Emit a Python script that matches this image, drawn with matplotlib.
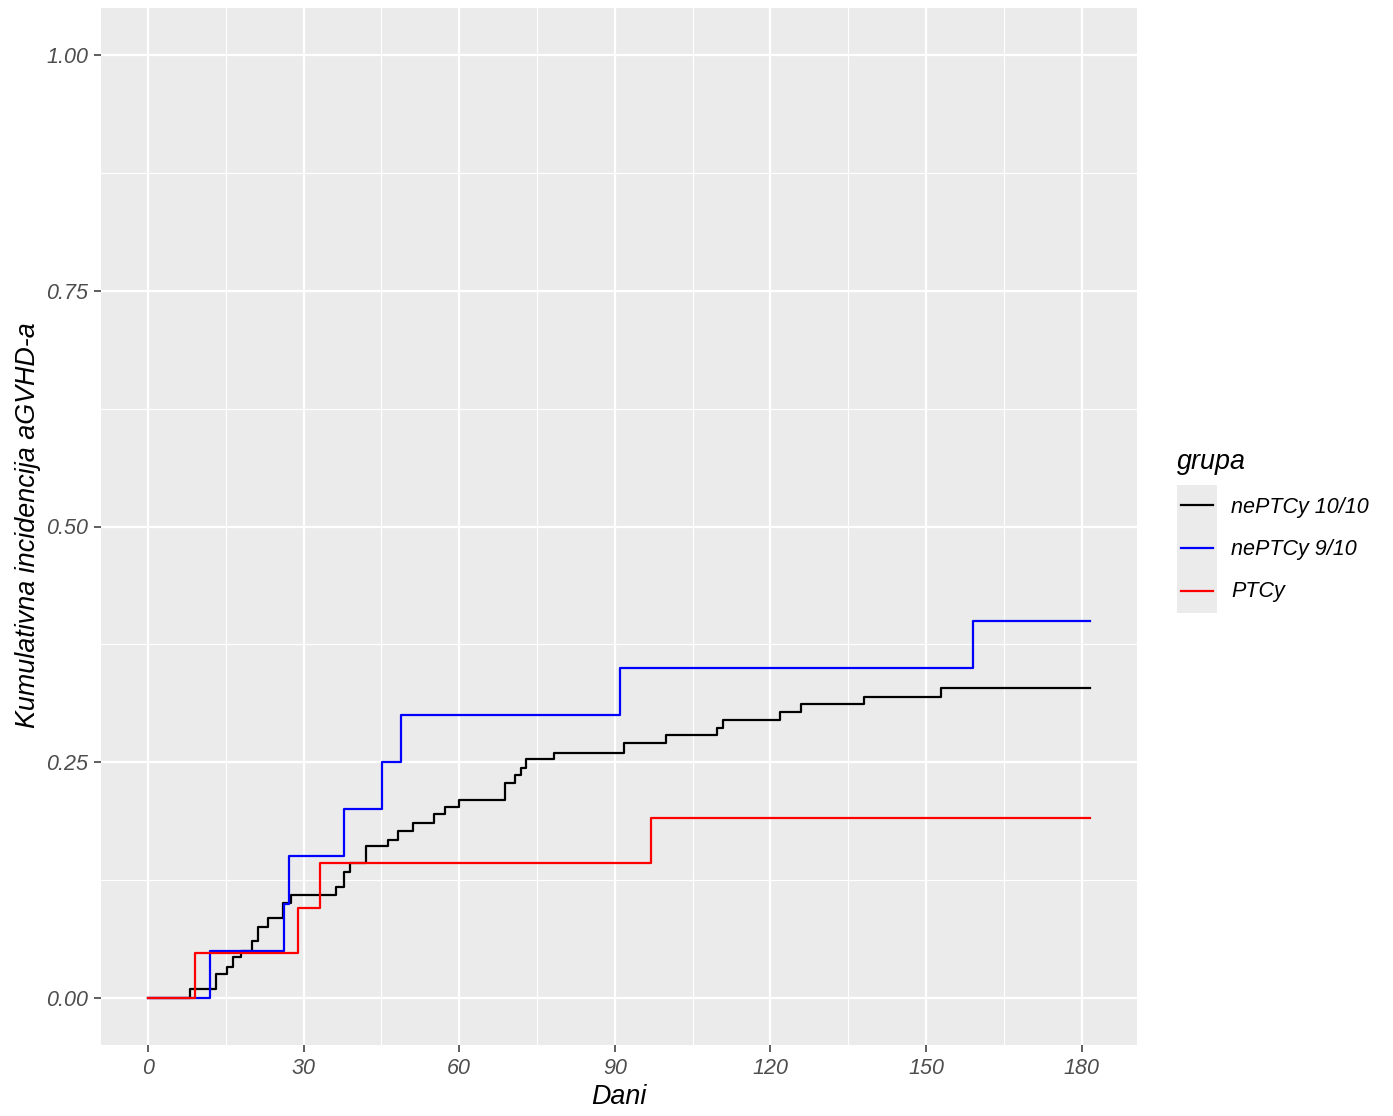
import matplotlib
matplotlib.use("Agg")
import matplotlib.pyplot as plt
from matplotlib.lines import Line2D
from matplotlib.patches import Rectangle

plt.rcParams['font.family'] = ['Liberation Sans', 'DejaVu Sans']
plt.rcParams['font.style'] = 'italic'

# ---------------- data ----------------
groups = ["nePTCy 10/10", "nePTCy 9/10", "PTCy"]
colors = ["black", "blue", "red"]
end_time = 181.6

t_10 = [0, 8, 13, 15.2, 16.3, 17.9, 20.0, 21.1, 23.2, 26.1, 27.5, 36.2, 37.8, 39.0,
        42.1, 46.2, 48.2, 51.0, 55.2, 57.2, 60.0, 68.9, 70.8, 71.9, 72.9, 78.2,
        91.8, 99.9, 109.8, 110.9, 121.9, 126.0, 138.1, 153.0]
ci_10 = [0, 0.0092, 0.0255, 0.0332, 0.0431, 0.0502, 0.0608, 0.075, 0.0845, 0.101,
         0.109, 0.118, 0.133, 0.1428, 0.1608, 0.1675, 0.1774, 0.1852, 0.195, 0.2022,
         0.2095, 0.2276, 0.2365, 0.2435, 0.253, 0.260, 0.270, 0.2785, 0.286, 0.2948,
         0.3033, 0.312, 0.3195, 0.3284]

t_9 = [0, 12, 26.2, 27.2, 37.8, 45.1, 48.8, 91.0, 159.1]
ci_9 = [0, 0.05, 0.10, 0.15, 0.20, 0.25, 0.30, 0.35, 0.40]

t_ptcy = [0, 9, 29, 33.2, 97.0]
ci_ptcy = [0, 1/21, 2/21, 3/21, 4/21]

series = [(t_10, ci_10), (t_9, ci_9), (t_ptcy, ci_ptcy)]

x_ticks = [0, 30, 60, 90, 120, 150, 180]
x_minor = [15, 45, 75, 105, 135, 165]
y_ticks = [0.00, 0.25, 0.50, 0.75, 1.00]
y_minor = [0.125, 0.375, 0.625, 0.875]

# ---------------- figure ----------------
W, H = 1393, 1116
fig = plt.figure(figsize=(W / 100, H / 100), dpi=100)
L, R, T, B = 101, 1137, 8, 1045
ax = fig.add_axes([L / W, 1 - B / H, (R - L) / W, (B - T) / H])
ax.set_facecolor("#EBEBEB")
for s in ax.spines.values():
    s.set_visible(False)

ax.set_xlim(-9.08, 190.7)
ax.set_ylim(-0.05, 1.05)
ax.set_xticks(x_ticks)
ax.set_xticks(x_minor, minor=True)
ax.set_yticks(y_ticks)
ax.set_yticks(y_minor, minor=True)
ax.set_xticklabels([str(v) for v in x_ticks])
ax.set_yticklabels([f"{v:.2f}" for v in y_ticks])
ax.grid(which="major", color="white", linewidth=1.6)
ax.grid(which="minor", color="white", linewidth=0.8)
ax.set_axisbelow(True)
ax.tick_params(which="major", length=5, width=1.1, color="#333333",
               labelsize=15.5, labelcolor="#4D4D4D", pad=4)
ax.tick_params(which="minor", length=0)
for lab in ax.get_xticklabels() + ax.get_yticklabels():
    lab.set_fontstyle("italic")

for (t, c), col in zip(series, colors):
    ax.step(list(t) + [end_time], list(c) + [c[-1]], where="post",
            color=col, linewidth=1.6)

fig.text(619 / W, 1 - 1097 / H, "Dani", ha="center", va="center",
         fontsize=19.4, style="italic")
fig.text(28 / W, 1 - 525 / H, "Kumulativna incidencija aGVHD-a", ha="center",
         va="center", rotation=90, fontsize=19.4, style="italic")

# ---------------- legend ----------------
fig.text(1177 / W, 1 - 462 / H, "grupa", ha="left", va="center",
         fontsize=19.4, style="italic")
key_top = 485
key_h = 41
gap = 1.5
for i, (g, col) in enumerate(zip(groups, colors)):
    y0 = key_top + i * (key_h + gap)
    fig.add_artist(Rectangle((1177 / W, 1 - (y0 + key_h + gap) / H), 40 / W,
                             (key_h + gap) / H,
                             transform=fig.transFigure, facecolor="#EBEBEB",
                             edgecolor="none"))
    yc = y0 + key_h / 2
    fig.add_artist(Line2D([1181 / W, 1213 / W], [1 - yc / H, 1 - yc / H],
                          transform=fig.transFigure, color=col, linewidth=1.6))
    fig.text(1231 / W, 1 - (yc + 1.5) / H, g, ha="left", va="center",
             fontsize=15.5, style="italic")

fig.savefig("out.png", dpi=100)
